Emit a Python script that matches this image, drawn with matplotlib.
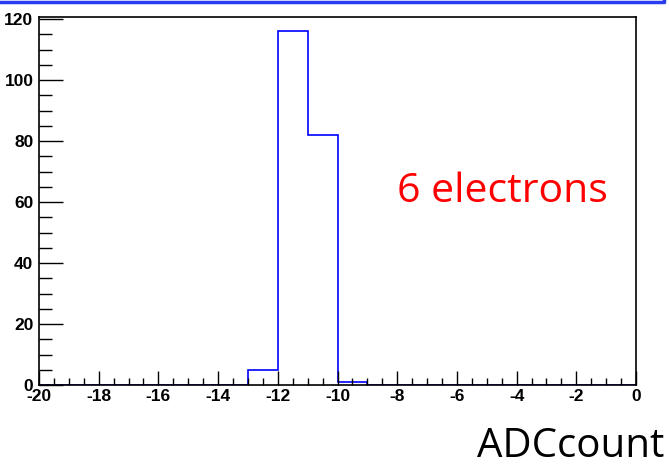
import numpy as np
import matplotlib.pyplot as plt
from matplotlib.lines import Line2D
from matplotlib.ticker import MultipleLocator

plt.rcParams["axes.unicode_minus"] = False

# ADC count histogram, 1-unit bins from -20 to 0
bin_edges = np.arange(-20, 1, 1)
counts = [0, 0, 0, 0, 0, 0, 0, 5, 116, 82, 1, 0, 0, 0, 0, 0, 0, 0, 0, 0]
x_ticks = [-20, -18, -16, -14, -12, -10, -8, -6, -4, -2, 0]
y_ticks = [0, 20, 40, 60, 80, 100, 120]

W, H = 669, 467
fig = plt.figure(figsize=(W / 100, H / 100), dpi=100)
ax = fig.add_axes([39 / W, 1 - 385 / H, (636 - 39) / W, (385 - 17) / H])

ax.stairs(counts, bin_edges, color="#0000ff", lw=1.2, baseline=None)

ax.set_xlim(-20, 0)
ax.set_ylim(0, 120.7)
ax.set_xticks(x_ticks)
ax.set_yticks(y_ticks)
ax.xaxis.set_minor_locator(MultipleLocator(0.5))
ax.yaxis.set_minor_locator(MultipleLocator(5))
ax.tick_params(which="both", direction="in", top=False, right=False, width=1, color="black")
ax.tick_params(axis="x", which="major", length=10, pad=3)
ax.tick_params(axis="x", which="minor", length=5)
ax.tick_params(axis="y", which="major", length=17, pad=4)
ax.tick_params(axis="y", which="minor", length=9)
for lbl in ax.get_xticklabels() + ax.get_yticklabels():
    lbl.set_fontfamily("Liberation Sans")
    lbl.set_fontweight("bold")
    lbl.set_fontsize(12.5)
for s in ax.spines.values():
    s.set_linewidth(1.2)

fig.text(397 / W, 1 - 202 / H, "6 electrons", color="#ff0000",
         fontfamily="Open Sans", fontsize=29.5, ha="left", va="baseline")
fig.text(664 / W, 1 - 457 / H, "ADCcount", color="black",
         fontfamily="Open Sans", fontsize=29, ha="right", va="baseline")

# blue frame edge along the top
fig.add_artist(Line2D([0, 664 / W, 664 / W], [1 - 2 / H, 1 - 2 / H, 1.0],
                      color="#2a3cf0", lw=2.5))

fig.savefig("out.png", dpi=100)
